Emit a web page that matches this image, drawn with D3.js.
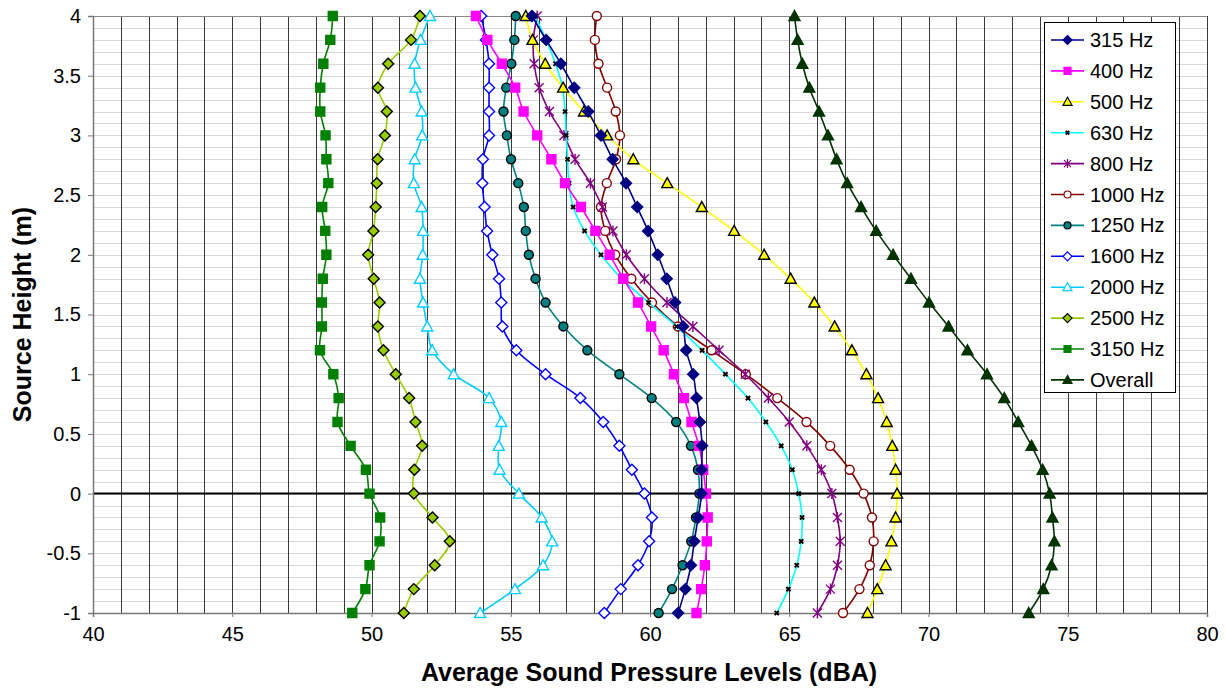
<!DOCTYPE html>
<html><head><meta charset="utf-8">
<script src="https://cdn.jsdelivr.net/npm/d3@7"></script>
<style>body{margin:0;background:#fff;}svg{display:block;font-family:Arial,"Liberation Sans",sans-serif;}</style>
</head><body><svg id="chart" width="1226" height="689"></svg>
<script>
// Source heights (m) for each measured point
const heights = [4,3.8,3.6,3.4,3.2,3.0,2.8,2.6,2.4,2.2,2.0,1.8,1.6,1.4,1.2,1.0,0.8,0.6,0.4,0.2,0.0,-0.2,-0.4,-0.6,-0.8,-1.0];
const seriesNames = ["315 Hz","400 Hz","500 Hz","630 Hz","800 Hz","1000 Hz","1250 Hz","1600 Hz","2000 Hz","2500 Hz","3150 Hz","Overall"];
const hz315 = [55.76,56.27,56.80,57.28,57.78,58.24,58.66,59.14,59.54,59.93,60.28,60.60,60.90,61.19,61.30,61.55,61.67,61.79,61.87,61.85,61.85,61.73,61.59,61.47,61.27,61.01];
const hz400 = [53.75,54.16,54.68,55.16,55.46,55.95,56.46,56.95,57.52,58.04,58.55,59.04,59.57,60.04,60.49,60.86,61.22,61.49,61.76,61.91,62.01,62.07,62.04,61.97,61.84,61.67];
const hz500 = [55.54,55.78,56.24,56.88,57.63,58.46,59.40,60.62,61.86,63.02,64.10,65.05,65.90,66.63,67.25,67.77,68.19,68.50,68.70,68.82,68.87,68.82,68.67,68.46,68.16,67.81];
const hz630 = [55.88,56.27,56.61,56.86,56.95,56.99,57.04,57.09,57.24,57.65,58.24,58.98,59.95,60.95,61.87,62.71,63.52,64.16,64.71,65.11,65.34,65.46,65.43,65.27,64.97,64.55];
const hz800 = [55.95,55.81,55.84,56.02,56.39,56.91,57.31,57.86,58.29,58.67,59.15,59.80,60.61,61.54,62.48,63.42,64.25,65.00,65.63,66.15,66.53,66.73,66.83,66.73,66.48,66.01];
const hz1000 = [58.09,58.02,58.15,58.46,58.77,58.92,58.78,58.45,58.24,58.39,58.75,59.33,60.07,61.00,62.21,63.44,64.57,65.62,66.47,67.17,67.67,67.97,68.03,67.89,67.52,66.93];
const hz1250 = [55.18,55.13,55.02,54.84,54.74,54.86,55.01,55.27,55.47,55.54,55.65,55.89,56.25,56.89,57.75,58.90,60.06,60.94,61.47,61.72,61.77,61.65,61.48,61.17,60.79,60.31];
const hz1600 = [53.94,54.11,54.22,54.22,54.22,54.22,54.00,53.98,54.06,54.15,54.34,54.58,54.66,54.70,55.20,56.25,57.50,58.32,58.90,59.35,59.80,60.07,59.97,59.57,58.95,58.36];
const hz2000 = [52.10,51.76,51.55,51.58,51.80,51.82,51.55,51.52,51.80,51.85,51.84,51.74,51.85,52.00,52.18,52.95,54.22,54.66,54.57,54.60,55.29,56.11,56.49,56.16,55.15,53.90];
const hz2500 = [51.74,51.42,50.60,50.23,50.55,50.48,50.22,50.19,50.15,50.07,49.88,50.08,50.29,50.23,50.43,50.87,51.35,51.58,51.82,51.54,51.52,52.19,52.81,52.27,51.52,51.16];
const hz3150 = [48.61,48.52,48.27,48.16,48.16,48.35,48.38,48.45,48.23,48.34,48.38,48.25,48.22,48.22,48.15,48.63,48.82,48.78,49.25,49.80,49.93,50.31,50.29,49.93,49.78,49.31];
const overall = [65.19,65.30,65.47,65.72,66.07,66.39,66.70,67.08,67.58,68.12,68.73,69.37,70.02,70.72,71.40,72.10,72.72,73.22,73.70,74.10,74.35,74.45,74.52,74.42,74.12,73.60];
const xTicks = [40,45,50,55,60,65,70,75,80];
const yTicks = [-1,-0.5,0,0.5,1,1.5,2,2.5,3,3.5,4];

const allValues = [hz315,hz400,hz500,hz630,hz800,hz1000,hz1250,hz1600,hz2000,hz2500,hz3150,overall];
// styles: line colour, marker type, marker fill, marker stroke
const styles = [
  {c:"#000080", m:"diamond", f:"#000080", s:"#000080"},
  {c:"#ff00ff", m:"square", f:"#ff00ff", s:"#ff00ff"},
  {c:"#ffff00", m:"triangle", f:"#ffff00", s:"#000000"},
  {c:"#00ffff", m:"x", f:"none", s:"#000000"},
  {c:"#800080", m:"star", f:"none", s:"#800080"},
  {c:"#800000", m:"circle", f:"#ffffff", s:"#800000"},
  {c:"#008080", m:"circle", f:"#008080", s:"#000000"},
  {c:"#0000ff", m:"diamond", f:"#ffffff", s:"#0000ff"},
  {c:"#00ccff", m:"triangle", f:"#ffffff", s:"#00ccff"},
  {c:"#99cc00", m:"diamond", f:"#99cc00", s:"#000000"},
  {c:"#008000", m:"square", f:"#008000", s:"#008000"},
  {c:"#003300", m:"triangle", f:"#003300", s:"#003300"}
];

const svg = d3.select("#chart");
const L=93, R=1207, T=16, B=613;
const x = d3.scaleLinear().domain([40,80]).range([L,R]);
const y = d3.scaleLinear().domain([-1,4]).range([B,T]);

const g = svg.append("g");
// minor horizontal gridlines every 0.1
const minor = d3.range(-10,41).map(d=>d/10);
g.selectAll("line.hm").data(minor).enter().append("line")
  .attr("x1",L).attr("x2",R).attr("y1",d=>Math.round(y(d))+0.5).attr("y2",d=>Math.round(y(d))+0.5)
  .attr("stroke","#d8d8d8").attr("stroke-width",1);
// vertical gridlines every 1
const vg = d3.range(40,81);
g.selectAll("line.vg").data(vg).enter().append("line")
  .attr("x1",d=>Math.round(x(d))+0.5).attr("x2",d=>Math.round(x(d))+0.5).attr("y1",T).attr("y2",B)
  .attr("stroke","#3a3a3a").attr("stroke-width",1);
// top border
g.append("line").attr("x1",L).attr("x2",R).attr("y1",T+0.5).attr("y2",T+0.5).attr("stroke","#888");
// zero line
g.append("line").attr("x1",L).attr("x2",R).attr("y1",y(0)).attr("y2",y(0)).attr("stroke","#000").attr("stroke-width",2);

// axes
const xAxis = d3.axisBottom(x).tickValues(xTicks).tickSize(4).tickFormat(d3.format("d"));
const yAxis = d3.axisLeft(y).tickValues(yTicks).tickSize(5).tickFormat(d=>String(d));
const gx = svg.append("g").attr("transform",`translate(0,${B})`).call(xAxis);
const gy = svg.append("g").attr("transform",`translate(${L},0)`).call(yAxis);
[gx,gy].forEach(a=>{a.select(".domain").attr("stroke","#777").attr("stroke-width",1.5);a.selectAll(".tick line").attr("stroke","#777");
  a.selectAll("text").attr("font-size",20).attr("font-family","Arial, 'Liberation Sans', sans-serif").attr("fill","#000");});
gx.selectAll("text").attr("dy","1.05em");
gy.selectAll("text").attr("dx","-0.2em");

svg.append("text").attr("x",649).attr("y",681).attr("text-anchor","middle").attr("font-size",25).attr("font-weight","bold").text("Average Sound Pressure Levels (dBA)");
svg.append("text").attr("transform",`translate(31,${(T+B)/2}) rotate(-90)`).attr("text-anchor","middle").attr("font-size",25).attr("font-weight","bold").text("Source Height (m)");

function markerPath(m, size){
  const r=size/2;
  if(m==="diamond") return `M0,${-r-1}L${r+1},0L0,${r+1}L${-r-1},0Z`;
  if(m==="square") return `M${-r},${-r}H${r}V${r}H${-r}Z`;
  if(m==="triangle") return `M0,${-r-1}L${r+1},${r}L${-r-1},${r}Z`;
  if(m==="circle") return d3.symbol(d3.symbolCircle, Math.PI*r*r)();
  if(m==="x"){const q=r*0.6;return `M${-q},${-q}L${q},${q}M${-q},${q}L${q},${-q}`;}
  if(m==="star"){return `M${-r},${-r}L${r},${r}M${-r},${r}L${r},${-r}M0,${-r-1}L0,${r+1}`;}
}

const line = d3.line().x(d=>x(d[0])).y(d=>y(d[1])).curve(d3.curveCatmullRom.alpha(0.5));
const plot = svg.append("g");
// draw in reverse order so 315 Hz is on top
for(let i=allValues.length-1;i>=0;i--){
  const st=styles[i];
  const pts = allValues[i].map((v,j)=>[v,heights[j]]);
  const sg = plot.append("g");
  sg.append("path").attr("d",line(pts)).attr("fill","none").attr("stroke",st.c).attr("stroke-width",1.6);
  sg.selectAll("path.m").data(pts).enter().append("path").attr("class","m")
    .attr("transform",d=>`translate(${x(d[0])},${y(d[1])})`)
    .attr("d",markerPath(st.m, st.m==="x"?7:9))
    .attr("fill",st.f).attr("stroke",st.s).attr("stroke-width",st.m==="x"?2:1.4);
}

// legend
const lg = svg.append("g");
lg.append("rect").attr("x",1044.5).attr("y",22.5).attr("width",131).attr("height",370).attr("fill","#fff").attr("stroke","#000").attr("stroke-width",1);
seriesNames.forEach((name,i)=>{
  const st=styles[i]; const cy=40+i*30.9;
  lg.append("line").attr("x1",1051).attr("x2",1084).attr("y1",cy).attr("y2",cy).attr("stroke",st.c).attr("stroke-width",1.6);
  lg.append("path").attr("transform",`translate(1067.5,${cy})`).attr("d",markerPath(st.m, st.m==="x"?6:7))
    .attr("fill",st.f).attr("stroke",st.s).attr("stroke-width",st.m==="x"?1.8:1.2);
  lg.append("text").attr("x",1090).attr("y",cy+7).attr("font-size",20).attr("fill","#000").text(name);
});
</script></body></html>
